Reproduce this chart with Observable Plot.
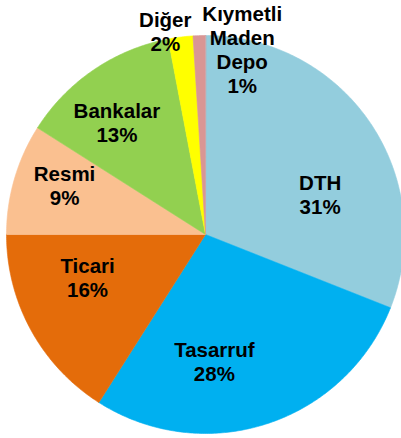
<!DOCTYPE html>
<html>
<head>
<meta charset="utf-8">
<script src="https://cdn.jsdelivr.net/npm/d3@7"></script>
<script src="https://cdn.jsdelivr.net/npm/@observablehq/plot@0.6"></script>
<style>
  html, body { margin: 0; padding: 0; background: #fff; }
</style>
</head>
<body>
<div id="chart"></div>
<script>
// Data (clockwise from 12 o'clock)
const categories = ["DTH", "Tasarruf", "Ticari", "Resmi", "Bankalar", "Diğer", "Kıymetli\nMaden\nDepo"];
const shares = [31, 28, 16, 9, 13, 2, 1];
const colors = ["#93CDDD", "#00B0F0", "#E46C0A", "#FAC090", "#92D050", "#FFFF00", "#D99694"];

// Layout: label placement relative to each slice's mid angle (degrees offset, radius fraction)
const labelAngleShift = [15, 14, 9, 3, -4, -4, 13];
const labelRadius = [0.61, 0.64, 0.63, 0.75, 0.72, 1.04, 0.95];

const W = 401, H = 438, R = 199, CX = 205, CY = 234;

const pie = d3.pie().sort(null).value(d => d)(shares);

const slicePts = [];
pie.forEach((p, i) => {
  const n = Math.max(4, Math.ceil((p.endAngle - p.startAngle) / 0.01));
  slicePts.push({k: i, x: 0, y: 0, c: colors[i]});
  for (let j = 0; j <= n; j++) {
    const a = p.startAngle + (p.endAngle - p.startAngle) * j / n;
    slicePts.push({k: i, x: Math.sin(a), y: Math.cos(a), c: colors[i]});
  }
});

const labels = pie.map((p, i) => {
  const a = (p.startAngle + p.endAngle) / 2 + labelAngleShift[i] * Math.PI / 180;
  return {
    x: labelRadius[i] * Math.sin(a),
    y: labelRadius[i] * Math.cos(a),
    text: categories[i] + "\n" + shares[i] + "%"
  };
});

const chart = Plot.plot({
  width: W,
  height: H,
  margin: 0,
  x: {domain: [-CX / R, (W - CX) / R], axis: null},
  y: {domain: [-(H - CY) / R, CY / R], axis: null},
  color: {type: "identity"},
  style: {background: "#fff", overflow: "hidden"},
  marks: [
    Plot.line(slicePts, {x: "x", y: "y", z: "k", fill: "c", stroke: "c", strokeWidth: 0.6, curve: "linear-closed"}),
    Plot.text(labels, {
      x: "x", y: "y", text: "text",
      fontSize: 20.5, fontWeight: "bold", fill: "#000",
      fontFamily: "Liberation Sans, Arial, sans-serif",
      lineHeight: 1.17, lineAnchor: "middle", textAnchor: "middle"
    })
  ]
});
document.getElementById("chart").appendChild(chart);
</script>
</body>
</html>
